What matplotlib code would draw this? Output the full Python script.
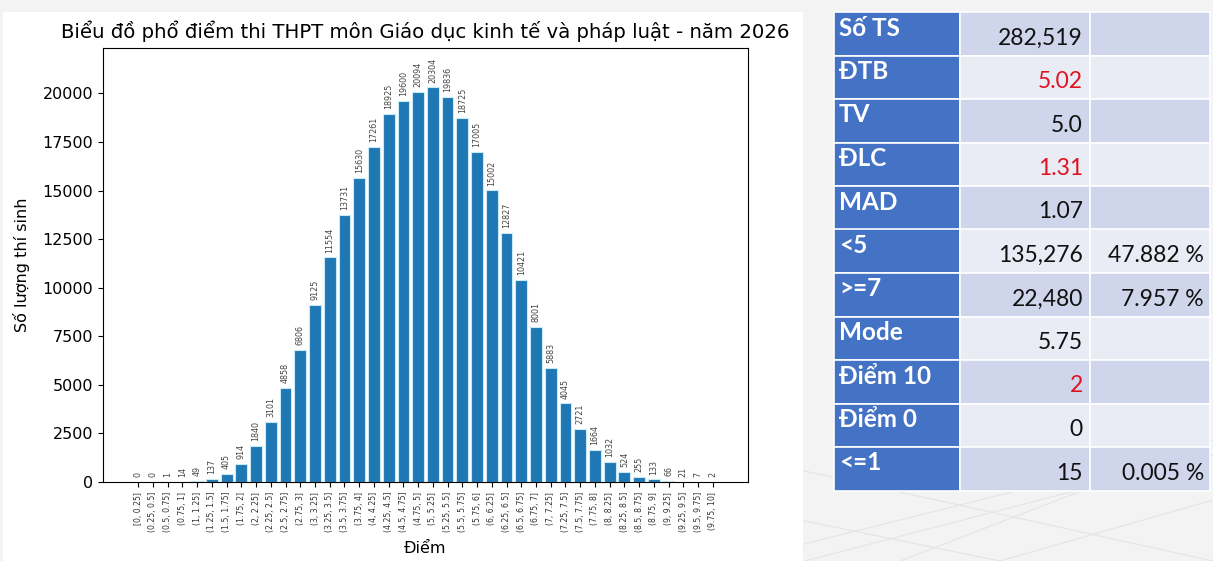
import matplotlib
matplotlib.use("Agg")
import matplotlib.pyplot as plt
from matplotlib.patches import Rectangle
from matplotlib.lines import Line2D


bins = [
    "[0, 0.25]", "(0.25, 0.5]", "(0.5, 0.75]", "(0.75, 1]", "(1, 1.25]",
    "(1.25, 1.5]", "(1.5, 1.75]", "(1.75, 2]", "(2, 2.25]", "(2.25, 2.5]",
    "(2.5, 2.75]", "(2.75, 3]", "(3, 3.25]", "(3.25, 3.5]", "(3.5, 3.75]",
    "(3.75, 4]", "(4, 4.25]", "(4.25, 4.5]", "(4.5, 4.75]", "(4.75, 5]",
    "(5, 5.25]", "(5.25, 5.5]", "(5.5, 5.75]", "(5.75, 6]", "(6, 6.25]",
    "(6.25, 6.5]", "(6.5, 6.75]", "(6.75, 7]", "(7, 7.25]", "(7.25, 7.5]",
    "(7.5, 7.75]", "(7.75, 8]", "(8, 8.25]", "(8.25, 8.5]", "(8.5, 8.75]",
    "(8.75, 9]", "(9, 9.25]", "(9.25, 9.5]", "(9.5, 9.75]", "(9.75, 10]",
]

counts = [
    0, 0, 1, 14, 49, 137, 405, 914, 1840, 3101,
    4858, 6806, 9125, 11554, 13731, 15630, 17261, 18925, 19600, 20094,
    20304, 19836, 18725, 17005, 15002, 12827, 10421, 8001, 5883, 4045,
    2721, 1664, 1032, 524, 255, 133, 66, 21, 7, 2,
]

stat_names = ["Số TS", "ĐTB", "TV", "ĐLC", "MAD", "<5", ">=7",
              "Mode", "Điểm 10", "Điểm 0", "<=1"]
stat_values = ["282,519", "5.02", "5.0", "1.31", "1.07", "135,276",
               "22,480", "5.75", "2", "0", "15"]
stat_percents = ["", "", "", "", "", "47.882 %", "7.957 %",
                 "", "", "", "0.005 %"]
red_rows = ["ĐTB", "ĐLC", "Điểm 10"]

W, H = 1213, 561

fig = plt.figure(figsize=(W / 100, H / 100), dpi=100)
fig.patch.set_facecolor("#f3f3f3")


def fx(px):
    return px / W


def fy(py):
    return 1 - py / H


# faint floor grid behind the table
for x0, y0, x1, y1 in [
    (800, 470, 1213, 561), (800, 520, 1000, 561), (900, 561, 1213, 440),
    (800, 545, 1100, 470), (1000, 561, 1213, 500), (805, 561, 1213, 455),
]:
    fig.add_artist(Line2D([fx(x0), fx(x1)], [fy(y0), fy(y1)],
                          color="#e4e4e4", lw=0.8, zorder=-3))

# white panel of the chart
fig.add_artist(Rectangle((fx(3), 0), fx(800), fy(12),
                         facecolor="white", edgecolor="none", zorder=-2))

ax = fig.add_axes([fx(103), fy(482), fx(645), fy(48) - fy(482)])

positions = list(range(len(counts)))
ax.bar(positions, counts, width=0.8, color="#1f77b4",
       edgecolor="#c6eaf7", linewidth=0.8)

for x, v in zip(positions, counts):
    ax.text(x, v + 250, str(v), rotation=90, ha="center", va="bottom",
            fontsize=5.8, color="#444444")

ax.set_ylim(0, max(counts) * 1.1)
ax.set_xticks(positions)
ax.set_xticklabels(bins, rotation=90, fontsize=5.6, color="#333333")
ax.tick_params(axis="y", labelsize=11.5)
ax.set_yticks([0, 2500, 5000, 7500, 10000, 12500, 15000, 17500, 20000])

ax.set_title("Biểu đồ phổ điểm thi THPT môn Giáo dục kinh tế và pháp luật - năm 2026",
             fontsize=14.2, pad=7)
ax.set_xlabel("Điểm", fontsize=11.5, labelpad=6)
ax.set_ylabel("Số lượng thí sinh", fontsize=11.5, labelpad=9)

# statistics table on the right
col_edges = [834, 960, 1090, 1210]
top = 12
row_h = 43.5
font = ["Lato", "DejaVu Sans"]

for i, name in enumerate(stat_names):
    y_top = top + i * row_h
    fill = "#cfd5ea" if i % 2 == 0 else "#e9ebf5"
    colors = ["#4472c4", fill, fill]
    for j in range(3):
        fig.add_artist(Rectangle(
            (fx(col_edges[j]), fy(y_top + row_h)),
            fx(col_edges[j + 1] - col_edges[j]), row_h / H,
            facecolor=colors[j], edgecolor="white", linewidth=1.2))

    fig.text(fx(col_edges[0] + 5), fy(y_top + 16), name,
             color="white", fontsize=17.5, fontweight="bold",
             family=font, ha="left", va="center")

    value_color = "#e0141e" if name in red_rows else "#111111"
    fig.text(fx(col_edges[2] - 7), fy(y_top + 26), stat_values[i],
             color=value_color, fontsize=16.5, family=font,
             ha="right", va="center")

    if stat_percents[i]:
        fig.text(fx(col_edges[3] - 6), fy(y_top + 26), stat_percents[i],
                 color="#111111", fontsize=16.5, family=font,
                 ha="right", va="center")

fig.savefig("out.png", dpi=100)
